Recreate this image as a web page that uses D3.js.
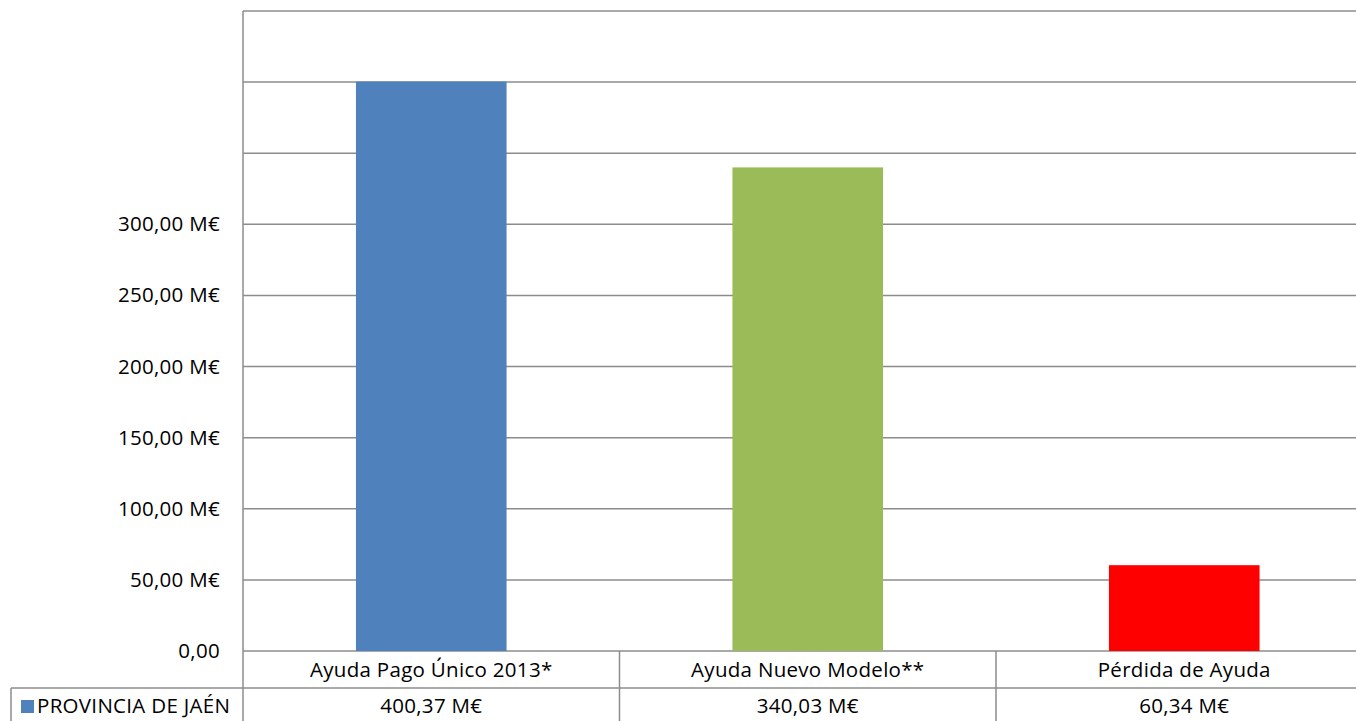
<!DOCTYPE html>
<html>
<head>
<meta charset="utf-8">
<script src="https://cdn.jsdelivr.net/npm/d3@7"></script>
<style>
  body { margin: 0; background: #fff; }
  svg { display: block; font-family: "Open Sans", "Liberation Sans", sans-serif; }
  .grid line { stroke: #8c8c8c; stroke-width: 1.5; }
  .lbl { font-size: 20.5px; letter-spacing: 0.3px; fill: #000; }
</style>
</head>
<body>
<svg id="chart" width="1356" height="721"></svg>
<script>
const categories = ["Ayuda Pago Único 2013*", "Ayuda Nuevo Modelo**", "Pérdida de Ayuda"];
const values = [400.37, 340.03, 60.34];
const valueLabels = ["400,37 M€", "340,03 M€", "60,34 M€"];
const barColors = ["#4F81BD", "#9BBB59", "#FF0000"];
const seriesName = "PROVINCIA DE JAÉN";
const yTicks = [0, 50, 100, 150, 200, 250, 300, 350, 400, 450];
const yTickLabels = ["0,00", "50,00 M€", "100,00 M€", "150,00 M€", "200,00 M€", "250,00 M€", "300,00 M€", "", "", ""];

(function () {
  const svg = d3.select("#chart");
  const W = 1356;
  const left = 243, top = 11, base = 651;
  const row1 = 688, row2 = 723;
  const legendLeft = 11;

  const x = d3.scaleBand().domain(categories).range([left, left + 3 * 376.5]).padding(0);
  const y = d3.scaleLinear().domain([0, 450]).range([base, top]);

  // gridlines
  const grid = svg.append("g").attr("class", "grid");
  grid.selectAll("line").data(yTicks).join("line")
    .attr("x1", left).attr("x2", W)
    .attr("y1", d => y(d)).attr("y2", d => y(d));

  // y axis line
  grid.append("line").attr("x1", left).attr("x2", left).attr("y1", top).attr("y2", row2);

  // y labels
  svg.append("g").selectAll("text").data(yTicks).join("text")
    .attr("class", "lbl")
    .attr("x", 220).attr("y", d => y(d) + 7)
    .attr("text-anchor", "end")
    .text((d, i) => yTickLabels[i]);

  // bars
  const bw = x.bandwidth() * 0.4;
  svg.append("g").selectAll("rect").data(values).join("rect")
    .attr("x", (d, i) => x(categories[i]) + (x.bandwidth() - bw) / 2)
    .attr("width", bw)
    .attr("y", d => y(d))
    .attr("height", d => y(0) - y(d))
    .attr("fill", (d, i) => barColors[i]);

  // data table
  const tbl = svg.append("g").attr("class", "grid");
  tbl.append("line").attr("x1", legendLeft).attr("x2", W).attr("y1", row1).attr("y2", row1);
  tbl.append("line").attr("x1", legendLeft).attr("x2", legendLeft).attr("y1", row1).attr("y2", row2);
  tbl.selectAll("line.sep").data(categories.slice(1)).join("line")
    .attr("class", "sep")
    .attr("x1", d => x(d)).attr("x2", d => x(d))
    .attr("y1", base).attr("y2", row2);

  svg.append("g").selectAll("text").data(categories).join("text")
    .attr("class", "lbl")
    .attr("x", d => x(d) + x.bandwidth() / 2)
    .attr("y", 677)
    .attr("text-anchor", "middle")
    .text(d => d);

  svg.append("g").selectAll("text").data(valueLabels).join("text")
    .attr("class", "lbl")
    .attr("x", (d, i) => x(categories[i]) + x.bandwidth() / 2)
    .attr("y", 713)
    .attr("text-anchor", "middle")
    .text(d => d);

  // legend key
  svg.append("rect").attr("x", 21).attr("y", 700).attr("width", 13).attr("height", 13).attr("fill", barColors[0]);
  svg.append("text").attr("class", "lbl").attr("x", 37).attr("y", 713).text(seriesName);
})();
</script>
</body>
</html>
